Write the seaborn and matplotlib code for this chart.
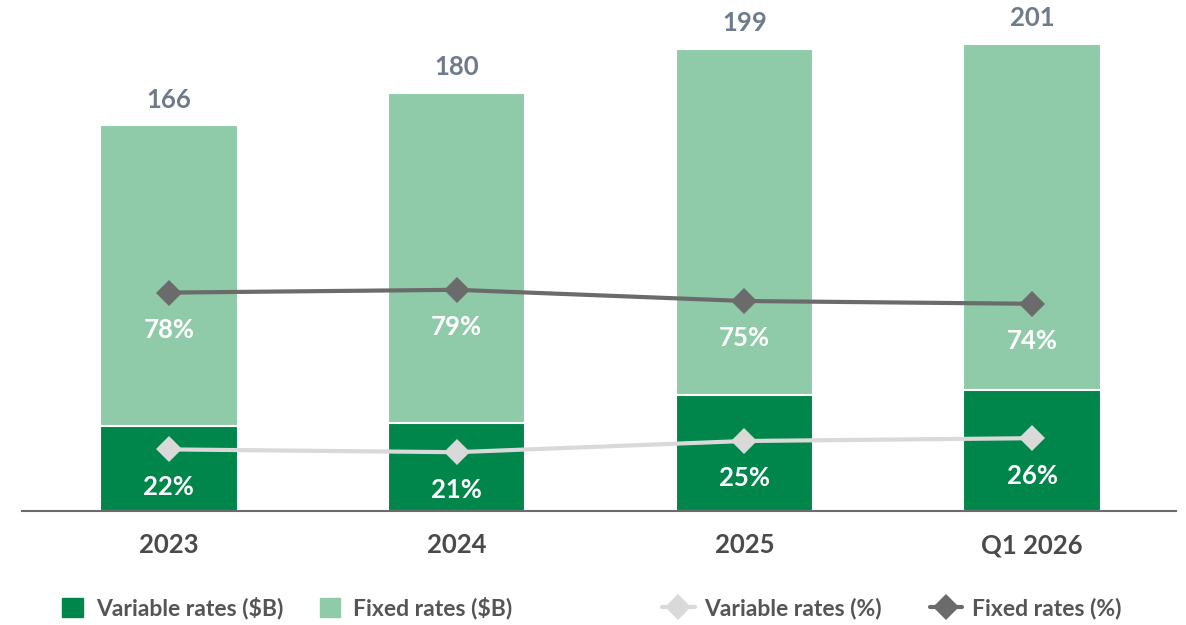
import numpy as np
import pandas as pd
import matplotlib
matplotlib.use("Agg")
import matplotlib.pyplot as plt
import seaborn as sns
from matplotlib.lines import Line2D
from matplotlib.patches import Patch

# Данные
periods = ["2023", "2024", "2025", "Q1 2026"]
total_b = [166, 180, 199, 201]
variable_pct = [22, 21, 25, 26]
fixed_pct = [78, 79, 75, 74]
variable_b = [t * v / 100 for t, v in zip(total_b, variable_pct)]

dark_green = "#00854A"
light_green = "#8FCBA9"
fixed_line = "#6B6B6B"
var_line = "#D9D9D9"

sns.set_style("white")
plt.rcParams["font.family"] = ["Lato", "DejaVu Sans"]
plt.rcParams["font.weight"] = "bold"

df = pd.DataFrame({"period": periods, "total": total_b, "variable": variable_b,
                   "var_pct": variable_pct, "fix_pct": fixed_pct})

fig = plt.figure(figsize=(11.86, 6.25), dpi=100)
ax = fig.add_axes([22 / 1186, 1 - 511 / 625, (1176 - 22) / 1186, 511 / 625])

# Столбцы: общий (фикс. + перем.) и переменная часть поверх
sns.barplot(data=df, x="period", y="total", color=light_green, width=0.478,
            edgecolor="white", linewidth=1.5, saturation=1, ax=ax)
sns.barplot(data=df, x="period", y="variable", color=dark_green, width=0.478,
            edgecolor="white", linewidth=1.5, saturation=1, ax=ax)
ax.set_xlim(-0.51, 3.5)
ax.set_ylim(0, 220)

for i, t in enumerate(total_b):
    ax.annotate(str(t), (i, t), xytext=(0, 10), textcoords="offset points",
                ha="center", va="bottom", fontsize=18.5, fontweight="bold",
                color="#6E7B8B", annotation_clip=False)

# Линии процентов на второй оси
ax2 = ax.twinx()
sns.lineplot(data=df, x="period", y="fix_pct", color=fixed_line, marker="D",
             markersize=13, linewidth=3, markeredgewidth=0, sort=False, ax=ax2)
sns.lineplot(data=df, x="period", y="var_pct", color=var_line, marker="D",
             markersize=13, linewidth=3, markeredgewidth=0, sort=False, ax=ax2)
ax2.set_ylim(0, 182.5)
ax2.set_xlim(-0.51, 3.5)

for i in range(len(periods)):
    ax2.annotate(f"{fixed_pct[i]}%", (i, fixed_pct[i]), xytext=(0, -27),
                 textcoords="offset points", ha="center", va="center",
                 fontsize=18.5, fontweight="bold", color="white")
    ax2.annotate(f"{variable_pct[i]}%", (i, variable_pct[i]), xytext=(0, -27),
                 textcoords="offset points", ha="center", va="center",
                 fontsize=18.5, fontweight="bold", color="white")

for a in (ax, ax2):
    for s in ["top", "right", "left"]:
        a.spines[s].set_visible(False)
    a.set_yticks([])
    a.set_ylabel("")
    a.set_xlabel("")
ax.spines["bottom"].set_color("#6B6B6B")
ax.spines["bottom"].set_linewidth(1.5)
ax2.spines["bottom"].set_visible(False)
ax.tick_params(axis="x", length=0, pad=16, labelsize=18.5, labelcolor="#4A4A4A")
for lab in ax.get_xticklabels():
    lab.set_fontweight("bold")

# Легенды
h1 = [Patch(color=dark_green), Patch(color=light_green)]
fig.legend(h1, ["Variable rates ($B)", "Fixed rates ($B)"], loc="center left",
           bbox_to_anchor=(62 / 1186, 0.027), ncol=2, frameon=False,
           borderaxespad=0, borderpad=0,
           handlelength=0.9, handleheight=0.9, handletextpad=0.57,
           columnspacing=1.6,
           labelcolor="#555555", prop={"weight": "bold", "size": 16.5})
h2 = [Line2D([], [], color=var_line, marker="D", markersize=13, linewidth=3,
             markeredgewidth=0),
      Line2D([], [], color=fixed_line, marker="D", markersize=13, linewidth=3,
             markeredgewidth=0)]
fig.legend(h2, ["Variable rates (%)", "Fixed rates (%)"], loc="center left",
           bbox_to_anchor=(662 / 1186, 0.027), ncol=2, frameon=False,
           borderaxespad=0, borderpad=0,
           handlelength=1.43, columnspacing=2.1, handletextpad=0.4,
           labelcolor="#555555", prop={"weight": "bold", "size": 16.5})

fig.savefig("out.png", dpi=100)
